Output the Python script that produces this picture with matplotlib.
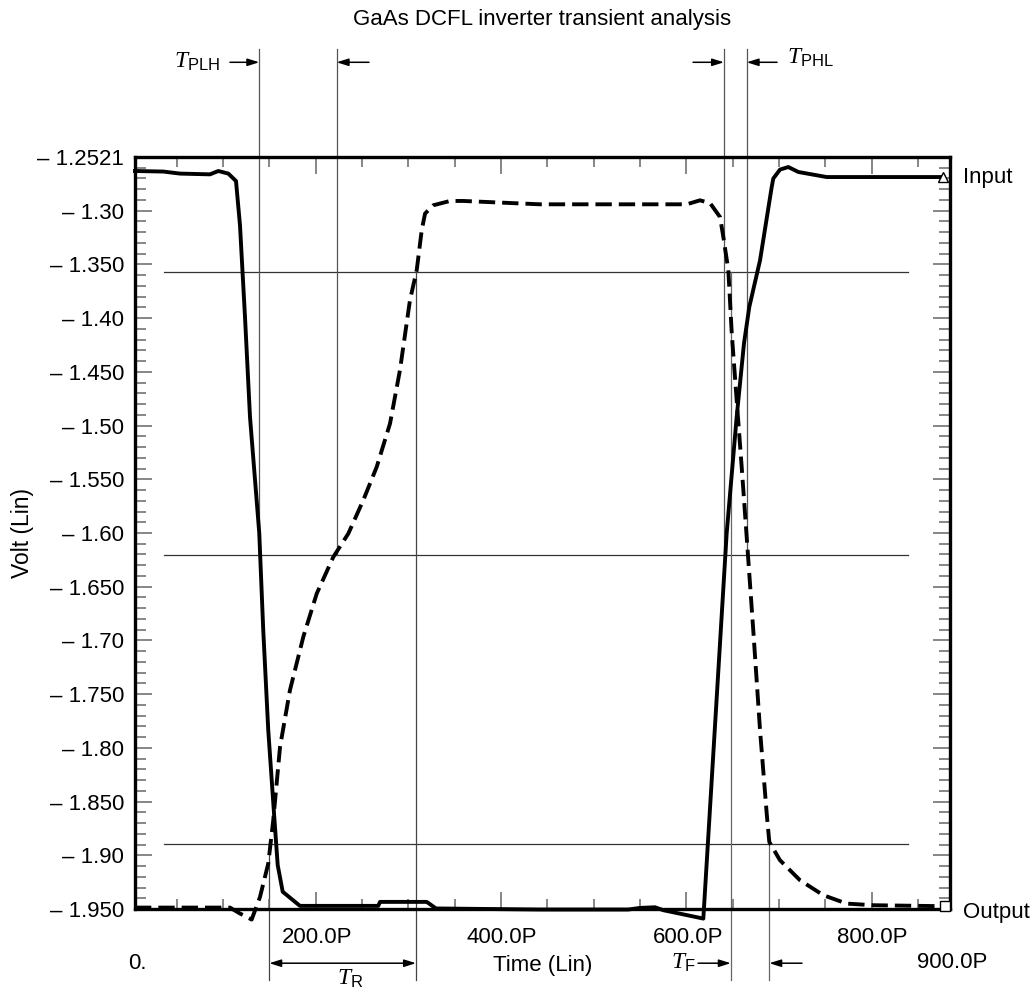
import numpy as np
import matplotlib
matplotlib.use("Agg")
from matplotlib import pyplot as plt
from matplotlib.ticker import FixedLocator, MultipleLocator, NullFormatter

plt.rcParams['font.family'] = ['Liberation Sans', 'DejaVu Sans']
plt.rcParams['mathtext.fontset'] = 'custom'
plt.rcParams['mathtext.it'] = 'Liberation Serif:italic'
plt.rcParams['mathtext.rm'] = 'Liberation Sans'

# time in ps, voltage in V
t_in = [5.0, 35.5, 53.5, 85.9, 94.9, 105.7, 114.0, 118.3, 123.7, 129.1, 139.1,
        143.4, 148.8, 155.0, 159.0, 164.4, 183.0, 267.5, 269.4, 319.8, 329.8,
        442.0, 537.3, 549.9, 566.1, 575.1, 618.3, 643.5, 654.3, 662.2, 667.9,
        679.5, 692.1, 693.8, 701.0, 710.0, 720.8, 751.4, 877.3]
v_in = [-1.2651, -1.2656, -1.2675, -1.2682, -1.2651, -1.2675, -1.2744, -1.3155,
        -1.4006, -1.4934, -1.6012, -1.6913, -1.7840, -1.8611, -1.9093, -1.9340,
        -1.9471, -1.9471, -1.9434, -1.9434, -1.9495, -1.9505, -1.9505, -1.9490,
        -1.9484, -1.9511, -1.9589, -1.6013, -1.4933, -1.4250, -1.3913, -1.3480,
        -1.2799, -1.2721, -1.2638, -1.2614, -1.2660, -1.2707, -1.2707]

t_out = [5.0, 107.5, 118.3, 130.9, 139.9, 148.8, 154.2, 161.5, 172.2, 186.6,
         201.1, 219.0, 235.2, 251.3, 265.8, 280.2, 290.9, 301.7, 309.0, 314.4,
         318.0, 326.9, 344.9, 359.3, 442.0, 600.4, 614.7, 625.5, 636.3, 639.9,
         645.3, 649.0, 654.3, 659.7, 665.1, 672.2, 679.5, 686.7, 689.5, 701.0,
         722.6, 747.8, 773.0, 801.7, 877.3]
v_out = [-1.9487, -1.9487, -1.9542, -1.9598, -1.9388, -1.9078, -1.8676, -1.7996,
         -1.7470, -1.6975, -1.6573, -1.6233, -1.6016, -1.5707, -1.5398, -1.4995,
         -1.4500, -1.3851, -1.3572, -1.3201, -1.3046, -1.2969, -1.2929, -1.2929,
         -1.2960, -1.2960, -1.2923, -1.2948, -1.3078, -1.3263, -1.3572, -1.4160,
         -1.4778, -1.5398, -1.6047, -1.6913, -1.7841, -1.8614, -1.8878, -1.9047,
         -1.9233, -1.9372, -1.9450, -1.9465, -1.9474]

ytick_labels = ['\u2013 1.950', '\u2013 1.90', '\u2013 1.850', '\u2013 1.80',
                '\u2013 1.750', '\u2013 1.70', '\u2013 1.650', '\u2013 1.60',
                '\u2013 1.550', '\u2013 1.50', '\u2013 1.450', '\u2013 1.40',
                '\u2013 1.350', '\u2013 1.30', '\u2013 1.2521']
xtick_labels = ['0.', '200.0P', '400.0P', '600.0P', '800.0P', '900.0P']

# reference levels (10%, 50%, 90%) and timing markers
levels = [-1.3588, -1.6217, -1.8893]
t_plh = [139.1, 222.6]
t_phl = [640.6, 665.1]
t_r = [149.9, 308.2]
t_f = [647.9, 689.5]

ymin, ymax = -1.950, -1.2521
xmin, xmax = 5.0, 884.5

fig = plt.figure(figsize=(10.30, 9.92), dpi=100)
ax = fig.add_axes([135/1030, 1-909/992, 815/1030, 752/992])
ax.set_xlim(xmin, xmax)
ax.set_ylim(ymin, ymax)

for s in ax.spines.values():
    s.set_linewidth(2.4)

ax.yaxis.set_major_locator(FixedLocator(np.linspace(ymin, ymax, 15)))
ax.yaxis.set_minor_locator(FixedLocator(np.linspace(ymin, ymax, 71)))
ax.set_yticklabels(ytick_labels)
ax.xaxis.set_major_locator(MultipleLocator(200))
ax.xaxis.set_minor_locator(MultipleLocator(50))
ax.xaxis.set_major_formatter(NullFormatter())
ax.tick_params(axis='both', which='both', direction='in', top=True, right=True,
               color='#666666', width=1.1)
ax.tick_params(axis='y', which='major', length=12, labelsize=16, pad=8)
ax.tick_params(axis='y', which='minor', length=8)
ax.tick_params(axis='x', which='major', length=12)
ax.tick_params(axis='x', which='minor', length=7.5)

# thin reference lines
for lv in levels:
    ax.plot([36.6, 839.5], [lv, lv], color='#333333', lw=0.9, zorder=1)

y_top, y_bot = -1.1522, -2.0161
y_arr_top, y_arr_bot = -1.1642, -2.0003
for xv in t_plh + t_phl:
    ax.plot([xv, xv], [y_top, levels[1]], color='#555555', lw=0.9, clip_on=False, zorder=1)
ax.plot([t_r[0]] * 2, [levels[2], y_bot], color='#444444', lw=0.9, clip_on=False, zorder=1)
ax.plot([t_r[1]] * 2, [levels[0], y_bot], color='#444444', lw=0.9, clip_on=False, zorder=1)
ax.plot([t_f[0]] * 2, [levels[0], y_bot], color='#666666', lw=0.9, clip_on=False, zorder=1)
ax.plot([t_f[1]] * 2, [levels[2], y_bot], color='#666666', lw=0.9, clip_on=False, zorder=1)

# curves
ax.plot(t_in, v_in, color='black', lw=2.8, clip_on=False, solid_joinstyle='round', zorder=3)
ax.plot(t_out, v_out, color='black', lw=2.8, dashes=[4.2, 1.8], clip_on=False, zorder=3)
ax.plot([t_in[-1]], [v_in[-1]], marker='^', ms=7, mfc='white', mec='black', mew=1,
        clip_on=False, zorder=4)
ax.plot([t_out[-1] + 2], [v_out[-1]], marker='s', ms=7, mfc='white', mec='black', mew=1,
        clip_on=False, zorder=4)

arrow = dict(arrowstyle='-|>,head_length=0.7,head_width=0.22', color='black', lw=1.1,
             shrinkA=0, shrinkB=0)


def arr(x0, x1, y):
    ax.annotate('', xy=(x1, y), xytext=(x0, y), arrowprops=arrow, annotation_clip=False)


arr(107.5, t_plh[0], y_arr_top)
arr(257.5, t_plh[1], y_arr_top)
arr(607.2, t_phl[0], y_arr_top)
arr(697.9, t_phl[1], y_arr_top)
arr(612.6, t_f[0], y_arr_bot)
arr(724.8, t_f[1], y_arr_bot)
ax.annotate('', xy=(t_r[1], y_arr_bot), xytext=(t_r[0], y_arr_bot),
            arrowprops=dict(arrowstyle='<|-|>,head_length=0.7,head_width=0.22',
                            color='black', lw=1.1, shrinkA=0, shrinkB=0),
            annotation_clip=False)

ax.text(96.6, y_arr_top, r'$T_{\mathrm{PLH}}$', fontsize=17, ha='right', va='center')
ax.text(708.6, y_arr_top + 0.004, r'$T_{\mathrm{PHL}}$', fontsize=17, ha='left', va='center')
ax.text(236.9, -2.0150, r'$T_{\mathrm{R}}$', fontsize=17, ha='center', va='center')
ax.text(609.4, y_arr_bot, r'$T_{\mathrm{F}}$', fontsize=17, ha='right', va='center')

# x labels, placed as on the original plotter output
xlab_x = [7.1, 201.3, 401.0, 601.7, 800.2, 886.6]
xlab_y = [-2.0003, -1.9762, -1.9762, -1.9762, -1.9762, -1.9994]
for lx, ly, lt in zip(xlab_x, xlab_y, xtick_labels):
    ax.text(lx, ly, lt, fontsize=16, ha='center', va='center')
ax.text(445.2, -2.0022, 'Time (Lin)', fontsize=16, ha='center', va='center')

ax.text(898.5, -1.2709, 'Input', fontsize=16, ha='left', va='center')
ax.text(898.5, -1.9530, 'Output', fontsize=16, ha='left', va='center')

fig.text(542/1030, 1-20/992, 'GaAs DCFL inverter transient analysis', fontsize=16,
         ha='center', va='center')
fig.text(23/1030, 1-533/992, 'Volt (Lin)', fontsize=16.5, rotation=90,
         ha='center', va='center')

fig.savefig('out.png', dpi=100)
